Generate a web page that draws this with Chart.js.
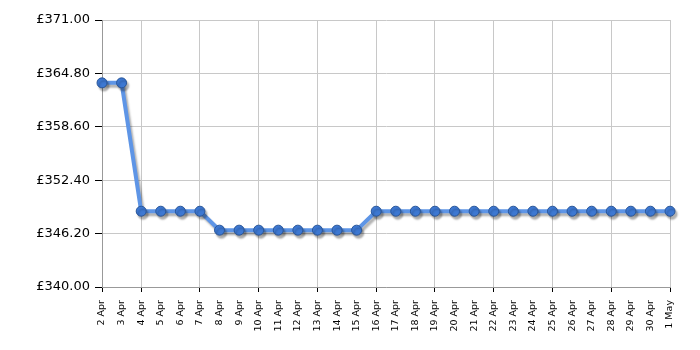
<!DOCTYPE html>
<html>
<head>
<meta charset="utf-8">
<script src="https://cdn.jsdelivr.net/npm/chart.js@4"></script>
<style>
  html, body { margin: 0; padding: 0; background: #fff; }
  #wrap { width: 700px; height: 350px; }
</style>
</head>
<body>
<div id="wrap"><canvas id="priceChart" width="700" height="350"></canvas></div>
<script>
// price history, 2 Apr - 1 May
const dayLabels = [
  "2 Apr", "3 Apr", "4 Apr", "5 Apr", "6 Apr", "7 Apr", "8 Apr", "9 Apr", "10 Apr", "11 Apr",
  "12 Apr", "13 Apr", "14 Apr", "15 Apr", "16 Apr", "17 Apr", "18 Apr", "19 Apr", "20 Apr", "21 Apr",
  "22 Apr", "23 Apr", "24 Apr", "25 Apr", "26 Apr", "27 Apr", "28 Apr", "29 Apr", "30 Apr", "1 May"
];
const prices = [
  363.7, 363.7, 348.8, 348.8, 348.8, 348.8, 346.6, 346.6, 346.6, 346.6,
  346.6, 346.6, 346.6, 346.6, 348.8, 348.8, 348.8, 348.8, 348.8, 348.8,
  348.8, 348.8, 348.8, 348.8, 348.8, 348.8, 348.8, 348.8, 348.8, 348.8
];
const yMin = 340;
const yMax = 371;
const yStep = 6.2;

// vertical grid only every third day, starting at 4 Apr
const isGridDay = (i) => i === 0 || (i >= 2 && (i - 2) % 3 === 0);

const shadowPlugin = {
  id: "lineShadow",
  beforeDatasetsDraw(chart) {
    const ctx = chart.ctx;
    ctx.save();
    ctx.shadowColor = "rgba(0,0,0,0.3)";
    ctx.shadowOffsetX = 2;
    ctx.shadowOffsetY = 3;
    ctx.shadowBlur = 2;
  },
  afterDatasetsDraw(chart) {
    chart.ctx.restore();
  },
};

new Chart(document.getElementById("priceChart"), {
  type: "line",
  data: {
    labels: dayLabels,
    datasets: [
      {
        data: prices,
        borderColor: "#5e95e6",
        borderWidth: 4,
        tension: 0,
        clip: false,
        pointRadius: 5,
        pointBackgroundColor: "#3d78d2",
        pointBorderColor: "#2a5698",
        pointBorderWidth: 1,
        fill: false,
      },
    ],
  },
  options: {
    responsive: false,
    animation: false,
    layout: { padding: { left: 0, right: 30, top: 20, bottom: 0 } },
    plugins: {
      legend: { display: false },
      tooltip: { enabled: false },
    },
    scales: {
      x: {
        offset: false,
        afterFit(scale) { scale.height = 63; },
        border: { color: "#999", width: 1 },
        grid: {
          color: (c) => (isGridDay(c.index) ? "#c8c8c8" : "rgba(0,0,0,0)"),
          tickColor: (c) => (isGridDay(c.index) ? "#000" : "rgba(0,0,0,0)"),
          tickLength: 5,
        },
        ticks: {
          autoSkip: false,
          minRotation: 90,
          maxRotation: 90,
          padding: 8,
          color: "#000",
          font: { family: "DejaVu Sans", size: 9.5 },
        },
      },
      y: {
        min: yMin,
        max: yMax,
        afterFit(scale) { scale.width = 102; },
        afterBuildTicks(scale) {
          const t = [];
          for (let k = 0; k <= 5; k++) t.push({ value: yMin + k * yStep });
          scale.ticks = t;
        },
        border: { color: "#999", width: 1 },
        grid: {
          color: "#c8c8c8",
          tickColor: "#000",
          tickLength: 7,
        },
        ticks: {
          padding: 5,
          color: "#000",
          font: { family: "DejaVu Sans", size: 13 },
          callback: (v) => "£" + Number(v).toFixed(2),
        },
      },
    },
  },
  plugins: [shadowPlugin],
});
</script>
</body>
</html>
